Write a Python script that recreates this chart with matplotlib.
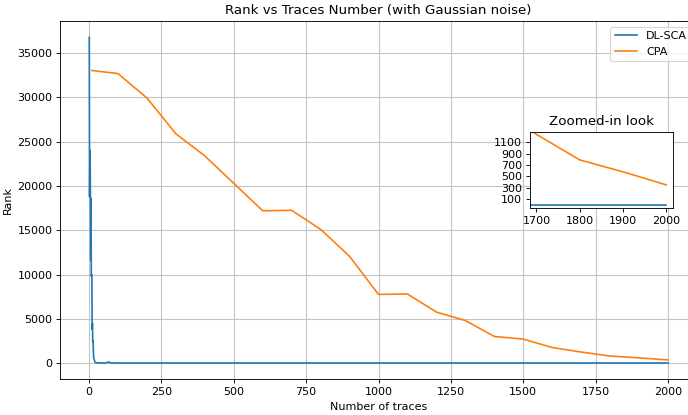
import matplotlib
matplotlib.use("Agg")
import matplotlib.pyplot as plt

# DL-SCA rank (sampled where it changes, flat at 0 afterwards)
dl_traces = [1, 2, 3, 4, 5, 6, 7, 8, 9, 10, 11, 12, 13, 14, 16, 18, 20, 22, 25, 30, 40, 50, 60, 68, 75, 100, 2000]
dl_rank = [36800, 18800, 23000, 24000, 18400, 11600, 18600, 9800, 10000, 9700, 3800, 4500, 2400, 2500, 600, 400, 150, 60, 30, 20, 10, 5, 20, 120, 5, 0, 0]

# CPA rank
cpa_traces = [10, 100, 200, 300, 400, 500, 600, 700, 800, 900, 1000,
              1100, 1200, 1300, 1400, 1500, 1600, 1700, 1800, 1900, 2000]
cpa_rank = [33050, 32700, 29950, 25900, 23400, 20300, 17200, 17250, 15100, 12050, 7750,
            7800, 5750, 4800, 3000, 2700, 1750, 1240, 790, 580, 350]

inset_xticks = [1700, 1800, 1900, 2000]
inset_yticks = [100, 300, 500, 700, 900, 1100]

fig = plt.figure(figsize=(688 / 80, 415 / 80), dpi=80)
ax = fig.add_axes([0.0877, 0.086, 0.9254, 0.8634])

ax.plot(dl_traces, dl_rank, label="DL-SCA")
ax.plot(cpa_traces, cpa_rank, label="CPA")
ax.set_xticks([0, 250, 500, 750, 1000, 1250, 1500, 1750, 2000])
ax.set_xlabel("Number of traces")
ax.set_ylabel("Rank")
ax.set_title("Rank vs Traces Number (with Gaussian noise)")
ax.grid(True, color="#c4c4c4", linewidth=1.0)
ax.legend(loc="upper right")

# Inset: zoomed-in look at the tail
axins = fig.add_axes([0.7703, 0.498, 0.2074, 0.1846])
axins.plot(dl_traces, dl_rank)
axins.plot(cpa_traces, cpa_rank)
axins.set_xlim(1685, 2015)
axins.set_ylim(-64, 1287)
axins.set_xticks(inset_xticks)
axins.set_yticks(inset_yticks)
axins.set_title("Zoomed-in look")

fig.savefig("out.png", dpi=80)
